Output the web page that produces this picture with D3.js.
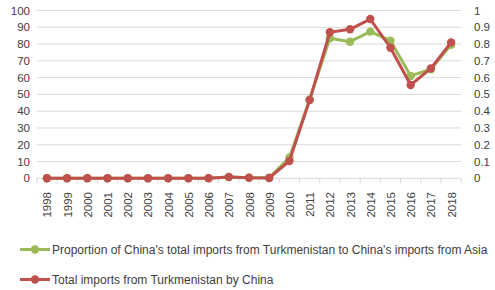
<!DOCTYPE html>
<html>
<head>
<meta charset="utf-8">
<script src="https://cdn.jsdelivr.net/npm/d3@7"></script>
<style>
body{margin:0;background:#fff;}
text{font-family:"Liberation Sans",Arial,sans-serif;fill:#404040;}
</style>
</head>
<body>
<svg id="c" width="495" height="290"></svg>
<script>
const years = ["1998","1999","2000","2001","2002","2003","2004","2005","2006","2007","2008","2009","2010","2011","2012","2013","2014","2015","2016","2017","2018"];
const totalImports = [0,0,0,0,0,0,0,0,0,0.8,0.3,0.2,10.3,46.6,87.0,88.8,94.9,77.8,55.6,65.5,81.0];
const proportion = [0,0,0,0,0,0,0,0,0,0.008,0.004,0.003,0.123,0.47,0.835,0.814,0.874,0.82,0.61,0.65,0.795];
const leftTicks = [0,10,20,30,40,50,60,70,80,90,100];
const rightTicks = [0,0.1,0.2,0.3,0.4,0.5,0.6,0.7,0.8,0.9,1];
const rightTickLabels = ["0","0.1","0.2","0.3","0.4","0.5","0.6","0.7","0.8","0.9","1"];
const legendLabels = ["Proportion of China's total imports from Turkmenistan to China's imports from Asia","Total imports from Turkmenistan by China"];

const svg = d3.select("#c");
const pLeft = 36.8, pRight = 461.2, pTop = 10.5, pBottom = 178.3;
const x = d3.scaleBand().domain(years).range([pLeft, pRight]);
const yL = d3.scaleLinear().domain([0,100]).range([pBottom, pTop]);
const yR = d3.scaleLinear().domain([0,1]).range([pBottom, pTop]);

// gridlines
svg.append("g").selectAll("line").data(leftTicks).join("line")
  .attr("x1", pLeft).attr("x2", pRight)
  .attr("y1", d => yL(d)).attr("y2", d => yL(d))
  .attr("stroke", "#d9d9d9").attr("stroke-width", 1);

// x tick marks
const bounds = years.map(y => x(y)).concat([pRight]);
svg.append("g").selectAll("line").data(bounds).join("line")
  .attr("x1", d => d).attr("x2", d => d)
  .attr("y1", pBottom).attr("y2", pBottom + 5)
  .attr("stroke", "#d9d9d9").attr("stroke-width", 1);

// left axis labels
svg.append("g").selectAll("text").data(leftTicks).join("text")
  .attr("x", 30).attr("y", d => yL(d)).attr("dy", "0.35em")
  .attr("text-anchor", "end").attr("font-size", 11.5).text(d => d);

// right axis labels
svg.append("g").selectAll("text").data(rightTicks).join("text")
  .attr("x", 474).attr("y", d => yR(d)).attr("dy", "0.35em")
  .attr("text-anchor", "start").attr("font-size", 11.5).text((d,i) => rightTickLabels[i]);

// x labels
svg.append("g").selectAll("text").data(years).join("text")
  .attr("transform", d => `translate(${x(d) + x.bandwidth()/2 + 4.5},192) rotate(-90)`)
  .attr("text-anchor", "end").attr("font-size", 11.5).text(d => d);

const cx = d => x(d) + x.bandwidth()/2;
const green = "#9bbb59", red = "#c0504d";

function drawSeries(vals, yScale, color) {
  const pts = years.map((yr, i) => [cx(yr), yScale(vals[i])]);
  svg.append("path").attr("d", d3.line()(pts)).attr("fill", "none")
    .attr("stroke", color).attr("stroke-width", 3).attr("stroke-linejoin", "round");
  svg.append("g").selectAll("circle").data(pts).join("circle")
    .attr("cx", d => d[0]).attr("cy", d => d[1]).attr("r", 4.2).attr("fill", color);
}
drawSeries(proportion, yR, green);
drawSeries(totalImports, yL, red);

// legend
const legY = [249.5, 279.5];
const legColors = [green, red];
legendLabels.forEach((lab, i) => {
  const g = svg.append("g");
  g.append("line").attr("x1", 20).attr("x2", 50).attr("y1", legY[i]).attr("y2", legY[i])
    .attr("stroke", legColors[i]).attr("stroke-width", 3);
  g.append("circle").attr("cx", 35).attr("cy", legY[i]).attr("r", 4.2).attr("fill", legColors[i]);
  g.append("text").attr("x", 52).attr("y", legY[i]).attr("dy", "0.35em")
    .attr("font-size", 12).text(lab);
});
</script>
</body>
</html>
